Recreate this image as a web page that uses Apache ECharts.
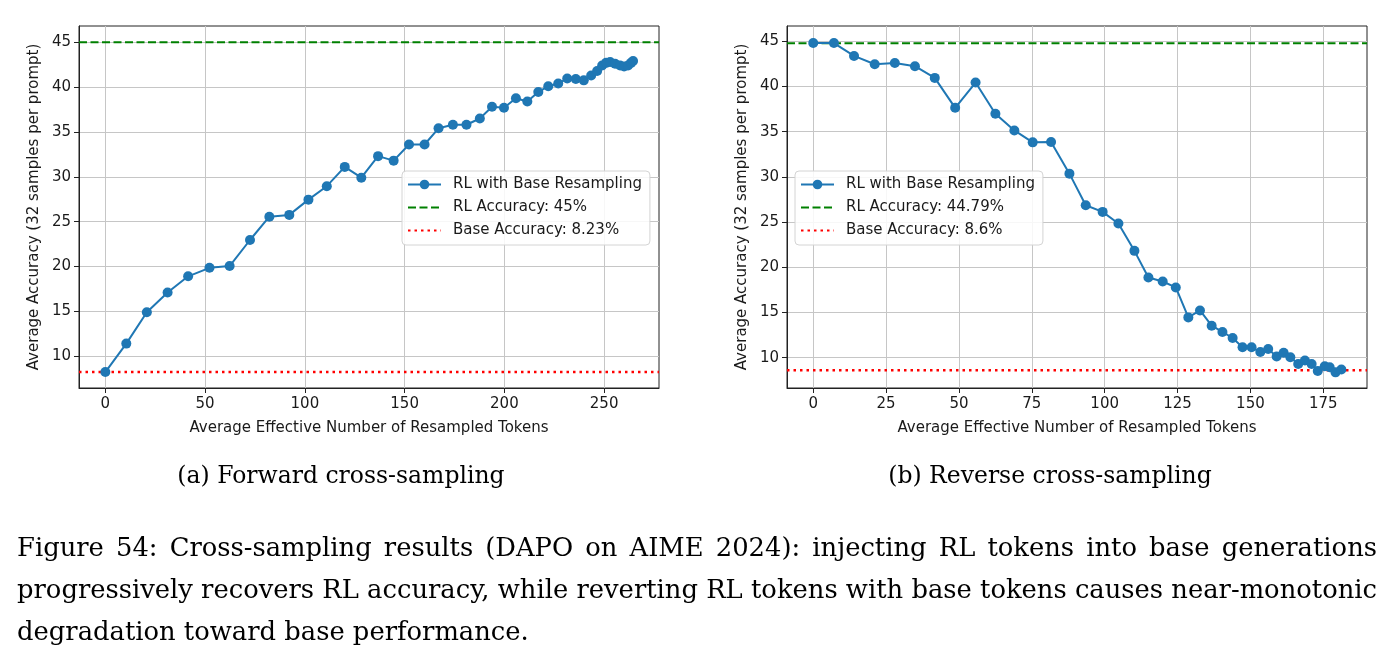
<!DOCTYPE html>
<html>
<head>
<meta charset="utf-8">
<script src="https://cdn.jsdelivr.net/npm/echarts@6/dist/echarts.min.js"></script>
<style>
  html, body { margin: 0; padding: 0; background: #fff; }
  #main { width: 1393px; height: 662px; }
</style>
</head>
<body>
<div id="main"></div>
<script>
// forward cross-sampling (left panel)
const fwdX = [0, 10.5, 20.8, 31.2, 41.5, 52.2, 62.3, 72.5, 82.2, 92.2,
  101.8, 111, 120, 128.3, 136.7, 144.5, 152.2, 160, 167, 174.2,
  181, 187.7, 193.8, 199.8, 205.8, 211.5, 217, 222, 227, 231.5,
  235.8, 239.8, 243.5, 246.5, 249, 251, 253, 255.5, 258, 260,
  262, 263.5, 264.5];
const fwdY = [8.23, 11.4, 14.9, 17.1, 18.9, 19.85, 20.05, 22.95, 25.55, 25.75,
  27.45, 28.95, 31.1, 29.9, 32.3, 31.8, 33.6, 33.6, 35.4, 35.8,
  35.8, 36.5, 37.8, 37.7, 38.75, 38.4, 39.45, 40.1, 40.4, 40.95,
  40.9, 40.75, 41.3, 41.8, 42.4, 42.7, 42.8, 42.6, 42.4, 42.3,
  42.4, 42.7, 42.9];
const fwdRL = 45;
const fwdBase = 8.23;

// reverse cross-sampling (right panel)
const revX = [0, 7.1, 14, 21.1, 28, 34.9, 41.7, 48.7, 55.7, 62.5,
  69, 75.3, 81.6, 87.9, 93.5, 99.3, 104.7, 110.2, 115, 119.9,
  124.4, 128.7, 132.7, 136.7, 140.4, 143.9, 147.3, 150.4, 153.4, 156.1,
  159, 161.4, 163.7, 166.4, 168.7, 171, 173.1, 175.5, 177.2, 179.2,
  181.2];
const revY = [44.81, 44.8, 43.38, 42.46, 42.6, 42.24, 40.95, 37.64, 40.44, 36.98,
  35.14, 33.82, 33.85, 30.36, 26.86, 26.13, 24.84, 21.82, 18.88, 18.43,
  17.77, 14.46, 15.23, 13.54, 12.85, 12.18, 11.15, 11.15, 10.64, 10.97,
  10.13, 10.55, 10.06, 9.31, 9.7, 9.31, 8.54, 9.05, 8.94, 8.38,
  8.69];
const revRL = 44.79;
const revBase = 8.6;

// tick labels
const fwdXTicks = [0, 50, 100, 150, 200, 250];
const revXTicks = [0, 25, 50, 75, 100, 125, 150, 175];
const yTicks = [10, 15, 20, 25, 30, 35, 40, 45];

// axis limits
const fwdXLim = [-13.2, 277.5];
const fwdYLim = [6.45, 46.81];
const revXLim = [-9, 190];
const revYLim = [6.65, 46.69];

const seriesName = "RL with Base Resampling";
const xTitle = "Average Effective Number of Resampled Tokens";
const yTitle = "Average Accuracy (32 samples per prompt)";

const blue = "#1f77b4";
const textColor = "#1a1a1a";
const sans = "DejaVu Sans";
const serif = "DejaVu Serif";

function zip(xs, ys) {
  return xs.map((x, i) => [x, ys[i]]);
}

function xAxisFor(gridIndex, lim, ticks) {
  return {
    type: "value",
    gridIndex: gridIndex,
    min: lim[0],
    max: lim[1],
    name: xTitle,
    nameLocation: "middle",
    nameGap: 33,
    nameTextStyle: { fontFamily: sans, fontSize: 15, color: textColor },
    axisLine: { show: true, onZero: false, lineStyle: { color: "#222", width: 1 } },
    axisTick: { show: true, length: 5, customValues: ticks, lineStyle: { color: "#222" } },
    axisLabel: { customValues: ticks, fontFamily: sans, fontSize: 15, color: textColor, margin: 9 },
    splitLine: { show: true, lineStyle: { color: "#c6c6c6", width: 1 } },
  };
}

function yAxisFor(gridIndex, lim) {
  return {
    type: "value",
    gridIndex: gridIndex,
    min: lim[0],
    max: lim[1],
    name: yTitle,
    nameLocation: "middle",
    nameGap: 37,
    nameTextStyle: { fontFamily: sans, fontSize: 15, color: textColor },
    axisLine: { show: true, onZero: false, lineStyle: { color: "#222", width: 1 } },
    axisTick: { show: true, length: 5, customValues: yTicks, lineStyle: { color: "#222" } },
    axisLabel: { customValues: yTicks, fontFamily: sans, fontSize: 15, color: textColor, margin: 8 },
    splitLine: { show: true, lineStyle: { color: "#c6c6c6", width: 1 } },
  };
}

function hline(name, idx, xLim, value, color, dash, width) {
  return {
    name: name,
    type: "line",
    xAxisIndex: idx,
    yAxisIndex: idx,
    data: [[xLim[0], value], [xLim[1], value]],
    symbol: "none",
    silent: true,
    z: 2,
    lineStyle: { color: color, type: dash, width: width },
    itemStyle: { color: color },
  };
}

function mainSeries(idx, xs, ys) {
  return {
    name: seriesName,
    type: "line",
    xAxisIndex: idx,
    yAxisIndex: idx,
    data: zip(xs, ys),
    symbol: "circle",
    symbolSize: 10,
    z: 3,
    lineStyle: { color: blue, width: 2 },
    itemStyle: { color: blue },
  };
}

// legend entries for the reference lines: no marker
function lineOnly(name) {
  return { name: name, itemStyle: { color: "rgba(0,0,0,0)", opacity: 0 } };
}

function legendFor(left, names) {
  return {
    left: left,
    top: 171,
    orient: "vertical",
    data: [names[0], lineOnly(names[1]), lineOnly(names[2])],
    selectedMode: false,
    backgroundColor: "rgba(255,255,255,0.85)",
    borderColor: "#d4d4d4",
    borderWidth: 1,
    borderRadius: 4,
    padding: [6, 8, 7, 5],
    itemWidth: 33,
    itemHeight: 12,
    itemGap: 8,
    textStyle: { fontFamily: sans, fontSize: 15, color: textColor, padding: [0, 0, 0, 7] },
  };
}

const fwdRLName = "RL Accuracy: " + fwdRL + "%";
const fwdBaseName = "Base Accuracy: " + fwdBase + "%";
const revRLName = "RL Accuracy: " + revRL + "%";
const revBaseName = "Base Accuracy: " + revBase + "%";

const captionLines = [
  "Figure 54: Cross-sampling results (DAPO on AIME 2024): injecting RL tokens into base generations",
  "progressively recovers RL accuracy, while reverting RL tokens with base tokens causes near-monotonic",
  "degradation toward base performance.",
];
const captionFont = "25.8px " + serif;

// lay out caption words: first two lines justified, last one natural
function captionGraphics() {
  const ctx = document.createElement("canvas").getContext("2d");
  ctx.font = captionFont;
  const left = 17, right = 1377;
  const ys = [549, 591, 633];
  const out = [];
  captionLines.forEach((line, li) => {
    if (li === captionLines.length - 1) {
      out.push({ type: "text", x: left, y: ys[li], style: { text: line, font: captionFont, fill: "#000", verticalAlign: "middle" } });
      return;
    }
    const words = line.split(" ");
    const widths = words.map((w) => ctx.measureText(w).width);
    const total = widths.reduce((a, b) => a + b, 0);
    const gap = (right - left - total) / (words.length - 1);
    let x = left;
    words.forEach((w, i) => {
      out.push({ type: "text", x: x, y: ys[li], style: { text: w, font: captionFont, fill: "#000", verticalAlign: "middle" } });
      x += widths[i] + gap;
    });
  });
  return out;
}

const options = {
  backgroundColor: "#fff",
  animation: false,
  grid: [
    { left: 79, top: 26, width: 580, height: 362, show: true, borderColor: "#222", borderWidth: 1 },
    { left: 787, top: 26, width: 580, height: 362, show: true, borderColor: "#222", borderWidth: 1 },
  ],
  xAxis: [xAxisFor(0, fwdXLim, fwdXTicks), xAxisFor(1, revXLim, revXTicks)],
  yAxis: [yAxisFor(0, fwdYLim), yAxisFor(1, revYLim)],
  legend: [
    legendFor(402, [seriesName, fwdRLName, fwdBaseName]),
    legendFor(795, [seriesName, revRLName, revBaseName]),
  ],
  series: [
    hline(fwdRLName, 0, fwdXLim, fwdRL, "#008000", [8, 3.5], 2),
    hline(fwdBaseName, 0, fwdXLim, fwdBase, "#ff0000", [2.5, 4], 2.5),
    mainSeries(0, fwdX, fwdY),
    hline(revRLName, 1, revXLim, revRL, "#008000", [8, 3.5], 2),
    hline(revBaseName, 1, revXLim, revBase, "#ff0000", [2.5, 4], 2.5),
    mainSeries(1, revX, revY),
  ],
  graphic: [
    { type: "text", x: 341, y: 477, style: { text: "(a) Forward cross-sampling", font: "23.5px " + serif, fill: "#000", align: "center", verticalAlign: "middle" } },
    { type: "text", x: 1050, y: 477, style: { text: "(b) Reverse cross-sampling", font: "23.5px " + serif, fill: "#000", align: "center", verticalAlign: "middle" } },
  ].concat(captionGraphics()),
};

let myChart = echarts.init(document.getElementById("main"));
myChart.setOption(options);
</script>
</body>
</html>
